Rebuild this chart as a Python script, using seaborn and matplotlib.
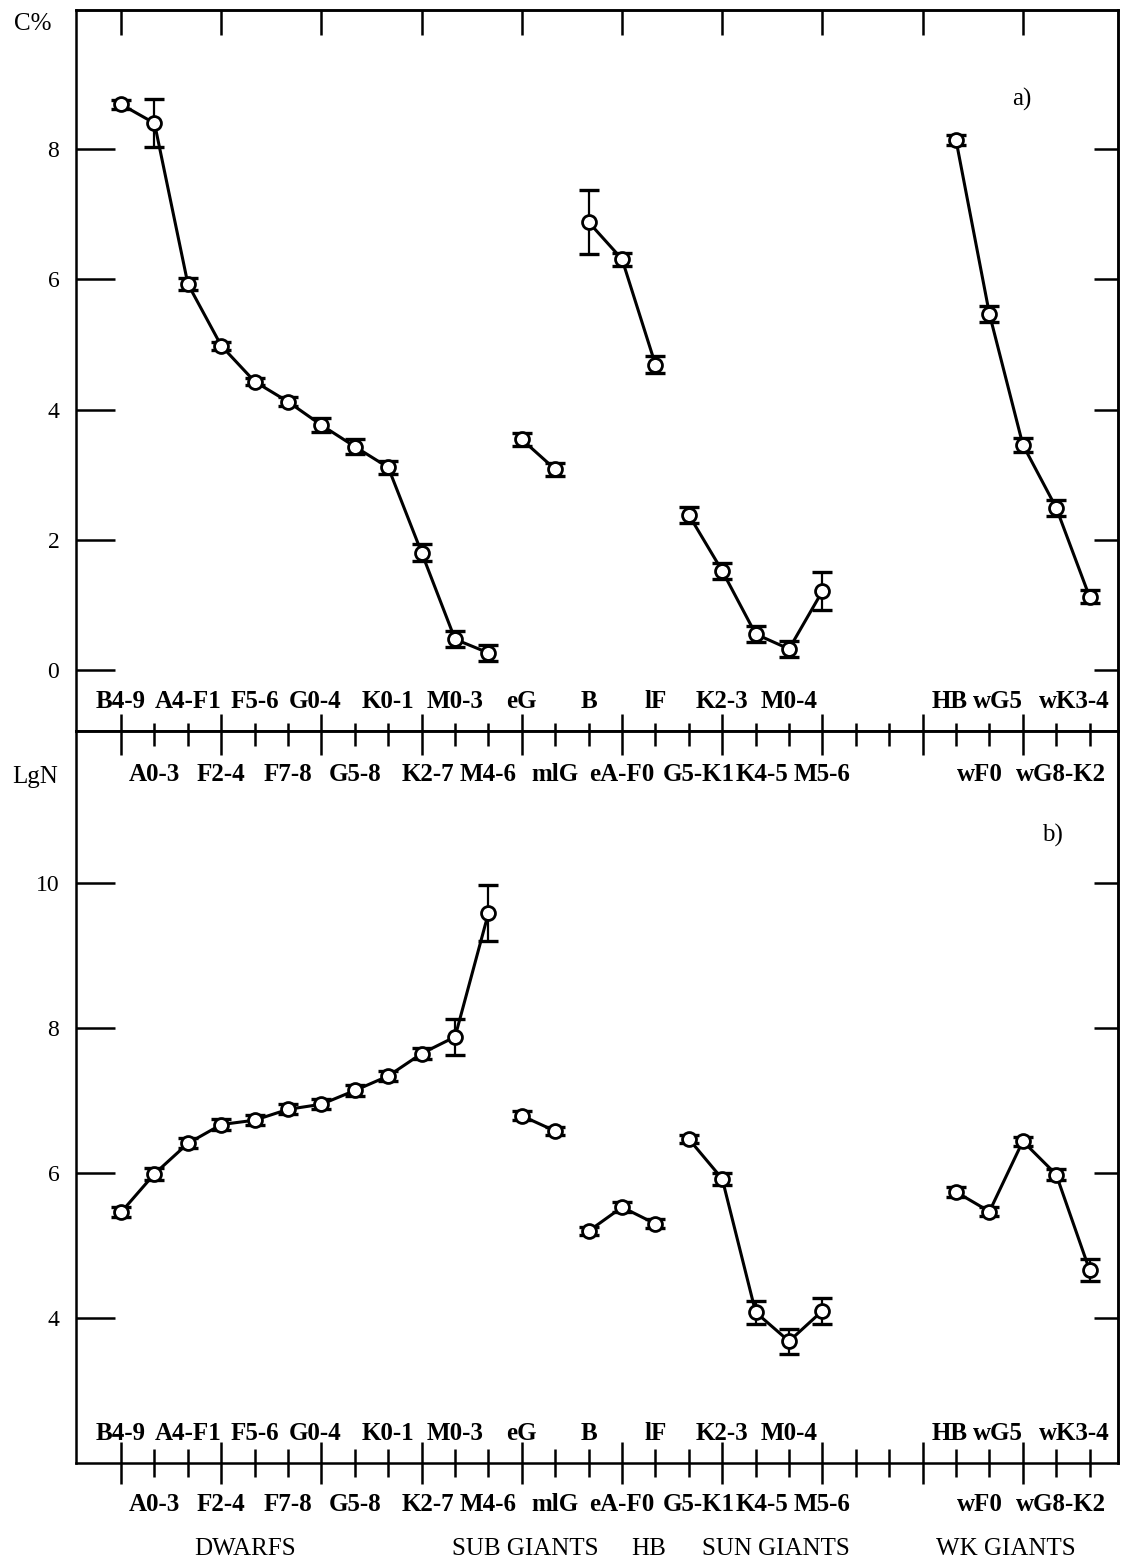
import numpy as np
import pandas as pd
import matplotlib
matplotlib.use("Agg")
import matplotlib.pyplot as plt
import matplotlib.transforms as mtransforms
import seaborn as sns

# ---------------- data ----------------
categories = ["B4-9", "A0-3", "A4-F1", "F2-4", "F5-6", "F7-8", "G0-4", "G5-8",
              "K0-1", "K2-7", "M0-3", "M4-6",
              "eG", "mlG",
              "B", "eA-F0", "lF",
              "G5-K1", "K2-3", "K4-5", "M0-4", "M5-6",
              "", "", "",
              "HB", "wF0", "wG5", "wG8-K2", "wK3-4"]
groups = (["DWARFS"] * 12 + ["SUB GIANTS"] * 2 + ["HB"] * 3 +
          ["SUN GIANTS"] * 5 + [""] * 3 + ["WK GIANTS"] * 5)
nan = np.nan
c_pct = [8.69, 8.40, 5.93, 4.98, 4.43, 4.12, 3.76, 3.43, 3.11, 1.80, 0.47, 0.26,
         3.54, 3.08,
         6.88, 6.31, 4.69,
         2.38, 1.52, 0.55, 0.32, 1.21,
         nan, nan, nan,
         8.14, 5.47, 3.46, 2.49, 1.12]
c_err = [0.07, 0.37, 0.09, 0.06, 0.06, 0.07, 0.11, 0.11, 0.10, 0.13, 0.12, 0.12,
         0.10, 0.10,
         0.49, 0.10, 0.13,
         0.12, 0.12, 0.12, 0.12, 0.29,
         nan, nan, nan,
         0.08, 0.12, 0.11, 0.12, 0.10]
lgn = [5.46, 5.99, 6.41, 6.67, 6.73, 6.88, 6.95, 7.14, 7.34, 7.65, 7.88, 9.59,
       6.79, 6.58,
       5.20, 5.53, 5.30,
       6.47, 5.92, 4.08, 3.68, 4.10,
       nan, nan, nan,
       5.74, 5.47, 6.44, 5.98, 4.66]
lgn_err = [0.07, 0.08, 0.07, 0.07, 0.07, 0.07, 0.07, 0.07, 0.07, 0.07, 0.25, 0.39,
           0.06, 0.06,
           0.06, 0.07, 0.06,
           0.06, 0.08, 0.16, 0.17, 0.18,
           nan, nan, nan,
           0.07, 0.06, 0.06, 0.07, 0.15]
group_names = ["DWARFS", "SUB GIANTS", "HB", "SUN GIANTS", "WK GIANTS"]
c_ticks = [0, 2, 4, 6, 8]
lgn_ticks = [4, 6, 8, 10]

# ---------------- style ----------------
sns.set_style("white")
plt.rcParams["font.family"] = ["Liberation Serif", "DejaVu Serif"]
plt.rcParams["axes.edgecolor"] = "black"
plt.rcParams["text.color"] = "black"
plt.rcParams["axes.labelcolor"] = "black"
plt.rcParams["xtick.color"] = "black"
plt.rcParams["ytick.color"] = "black"
plt.rcParams["xtick.labelcolor"] = "black"
plt.rcParams["ytick.labelcolor"] = "black"
plt.rcParams["axes.linewidth"] = 1.8

W, H = 1122, 1559
fig = plt.figure(figsize=(W / 100, H / 100), dpi=100)


def fx(px):
    return px / W


def fy(py):
    return 1 - py / H


x_left, x_right = 76, 1118
top_y, mid_y, bot_y = 10, 731, 1463
ax1 = fig.add_axes([fx(x_left), fy(mid_y), (x_right - x_left) / W, (mid_y - top_y) / H])
ax2 = fig.add_axes([fx(x_left), fy(bot_y), (x_right - x_left) / W, (bot_y - mid_y) / H])

df = pd.DataFrame({"pos": np.arange(len(categories)), "cat": categories,
                   "group": groups, "C": c_pct, "Cerr": c_err,
                   "LgN": lgn, "LgNerr": lgn_err})
df = df[df["group"] != ""].reset_index(drop=True)

for ax, col, ecol in [(ax1, "C", "Cerr"), (ax2, "LgN", "LgNerr")]:
    ax.errorbar(df["pos"], df[col], yerr=df[ecol], fmt="none", ecolor="black",
                elinewidth=1.6, capsize=7, capthick=2.4, zorder=2)
    sns.lineplot(data=df, x="pos", y=col, units="group", estimator=None, ax=ax,
                 color="black", lw=2.2, marker="o", markersize=10,
                 markerfacecolor="white", markeredgecolor="black",
                 markeredgewidth=2.0, zorder=3, legend=False)
    ax.set_xlabel("")
    ax.set_ylabel("")
    ax.set_xlim(-1.35, 29.85)
    for s in ax.spines.values():
        s.set_linewidth(1.8)

ax1.set_ylim(-0.94, 10.14)
ax2.set_ylim(2.0, 12.1)

npos = len(categories)
major = np.arange(0, npos, 3)
minor = np.array([p for p in range(npos) if p % 3 != 0])

for ax, yt in [(ax1, c_ticks), (ax2, lgn_ticks)]:
    ax.set_yticks(yt)
    ax.set_yticklabels([str(v) for v in yt])
    ax.tick_params(axis="y", which="major", left=True, right=False, direction="in",
                   length=28, width=1.8, labelsize=17, pad=12)
    sec = ax.secondary_yaxis("right")
    sec.set_yticks(yt, labels=[""] * len(yt))
    sec.tick_params(axis="y", direction="in", length=17, width=1.8)
    ax.set_xticks(major)
    ax.set_xticks(minor, minor=True)
    ax.set_xticklabels([])

# top panel: bottom ticks (upward), top ticks (downward)
ax1.tick_params(axis="x", which="both", bottom=True, top=False, direction="in",
                width=1.8, labelbottom=False)
ax1.tick_params(axis="x", which="major", length=12)
ax1.tick_params(axis="x", which="minor", length=6)
sec1 = ax1.secondary_xaxis("top")
sec1.set_xticks(major, labels=[""] * len(major))
sec1.tick_params(axis="x", direction="in", length=18, width=1.8)

# bottom panel: bottom ticks in/out, top ticks (downward)
ax2.tick_params(axis="x", which="both", bottom=True, top=False, direction="inout",
                width=1.8, labelbottom=False)
ax2.tick_params(axis="x", which="major", length=30)
ax2.tick_params(axis="x", which="minor", length=20)
sec2 = ax2.secondary_xaxis("top")
sec2.set_xticks(major, labels=[""] * len(major))
sec2.set_xticks(minor, labels=[""] * len(minor), minor=True)
sec2.tick_params(axis="x", which="major", direction="in", length=17, width=1.8)
sec2.tick_params(axis="x", which="minor", direction="in", length=11, width=1.8)

# ---------------- category labels ----------------
trans = mtransforms.blended_transform_factory(ax1.transData, fig.transFigure)
nudge = {"wG5": -0.75, "wK3-4": -0.45, "G5-K1": 0.3, "K4-5": 0.2,
         "G0-4": -0.2, "HB": -0.2, "K2-7": 0.2, "wF0": -0.3, "wG8-K2": 0.15}
row1_base = [708, 1440]
row2_base = [781, 1511]
for k, row in df.iterrows():
    x = row["pos"] + nudge.get(row["cat"], 0)
    bases = row1_base if k % 2 == 0 else row2_base
    for b in bases:
        fig.text(x, fy(b), row["cat"], transform=trans, ha="center",
                 va="baseline", fontsize=18, fontweight="bold")

group_centers = {"DWARFS": 3.7, "SUB GIANTS": 12.1, "HB": 15.8,
                 "SUN GIANTS": 19.6, "WK GIANTS": 26.5}
for g in group_names:
    fig.text(group_centers[g], fy(1555), g, transform=trans, ha="center",
             va="baseline", fontsize=18)

# axis titles and panel tags
fig.text(fx(33), fy(30), "C%", ha="center", va="baseline", fontsize=18)
fig.text(fx(35), fy(783), "LgN", ha="center", va="baseline", fontsize=18)
fig.text(fx(1022), fy(106), "a)", ha="center", va="baseline", fontsize=18)
fig.text(fx(1052), fy(842), "b)", ha="center", va="baseline", fontsize=18)

fig.savefig("out.png", dpi=100)
